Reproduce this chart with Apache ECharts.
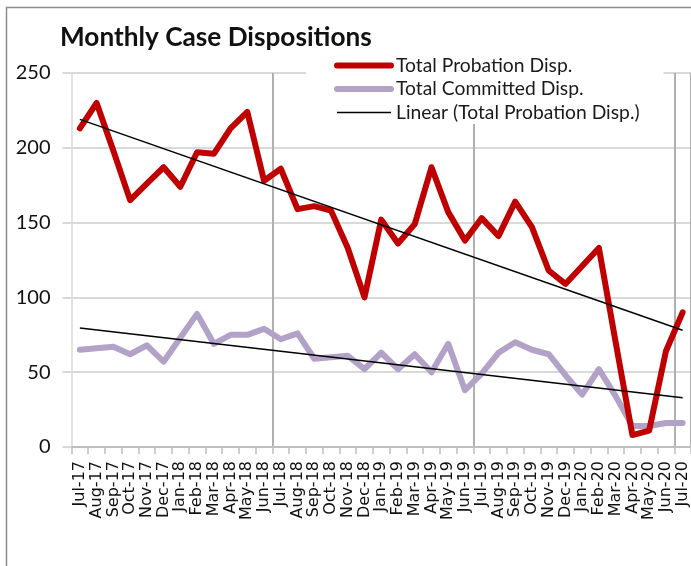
<!DOCTYPE html>
<html>
<head>
<meta charset="utf-8">
<script src="https://cdn.jsdelivr.net/npm/echarts@6/dist/echarts.min.js"></script>
<style>
  html, body { margin: 0; padding: 0; background: #fff; }
  #chart { width: 691px; height: 566px; }
</style>
</head>
<body>
<div id="chart"></div>
<script>
const categories = ["Jul-17","Aug-17","Sep-17","Oct-17","Nov-17","Dec-17","Jan-18","Feb-18","Mar-18","Apr-18","May-18","Jun-18",
  "Jul-18","Aug-18","Sep-18","Oct-18","Nov-18","Dec-18","Jan-19","Feb-19","Mar-19","Apr-19","May-19","Jun-19",
  "Jul-19","Aug-19","Sep-19","Oct-19","Nov-19","Dec-19","Jan-20","Feb-20","Mar-20","Apr-20","May-20","Jun-20","Jul-20"];
const probation = [213,230,198,165,176,187,174,197,196,213,224,178,
  186,159,161,158,133,100,152,136,149,187,157,138,
  153,141,164,147,118,109,121,133,70,8,11,64,90];
const committed = [65,66,67,62,68,57,73,89,69,75,75,79,
  72,76,59,60,61,52,63,52,62,50,69,38,
  49,63,70,65,62,48,35,52,34,14,14,16,16];
const trendProbationEnds = [219, 78];
const trendCommittedEnds = [79.5, 33];
const yTicks = { min: 0, max: 250, step: 50 };
const titleText = "Monthly Case Dispositions";
const legendNames = ["Total Probation Disp.", "Total Committed Disp.", "Linear (Total Probation Disp.)"];

function fitFont(text, family, weight, target) {
  const c = document.createElement('canvas').getContext('2d');
  c.font = weight + ' 100px ' + family;
  const w = c.measureText(text).width;
  return Math.round(100 * target / w * 10) / 10;
}
function trendSeries(ends) {
  return categories.map((_, i) => i === 0 ? ends[0] : (i === categories.length - 1 ? ends[1] : null));
}

const titleSize = fitFont(titleText, 'Lato', 'bold', 312);
const legendSize = fitFont(legendNames[2], 'Lato', 'normal', 244);

const chart = echarts.init(document.getElementById('chart'), null, { renderer: 'canvas' });
const option = {
  backgroundColor: '#fff',
  animation: false,
  graphic: [{
    type: 'rect', left: 4, top: 5, z: 100, silent: true,
    shape: { width: 720, height: 600 },
    style: { fill: 'none', stroke: '#8c8c8c', lineWidth: 1.5 }
  }],
  title: {
    text: titleText, left: 60, top: 39 - titleSize / 2 - 1,
    padding: 0,
    textStyle: { fontFamily: 'Lato', fontWeight: 'bold', fontSize: titleSize, color: '#111' }
  },
  legend: {
    orient: 'vertical', left: 306, top: 45,
    padding: [11, 24, 2, 28],
    backgroundColor: '#fff',
    itemWidth: 54, itemHeight: 14, itemGap: 4.5,
    textStyle: { fontFamily: 'Lato', fontSize: legendSize, color: '#1a1a1a' },
    data: [
      { name: legendNames[0], itemStyle: { opacity: 0 }, lineStyle: { width: 6, color: '#c00000', cap: 'round' } },
      { name: legendNames[1], itemStyle: { opacity: 0 }, lineStyle: { width: 6, color: '#b3a2c7', cap: 'round' } },
      { name: legendNames[2], itemStyle: { opacity: 0 }, lineStyle: { width: 1.5, color: '#000' } }
    ]
  },
  grid: { left: 71.5, top: 73, width: 37 * 16.83, height: 374, containLabel: false },
  xAxis: {
    type: 'category', data: categories, boundaryGap: true,
    axisLine: { show: true, lineStyle: { color: '#bfbfbf', width: 2 } },
    axisTick: { show: true, interval: 0, length: 7, lineStyle: { color: '#bfbfbf', width: 1.5 } },
    axisLabel: { interval: 0, rotate: 90, margin: 14, fontFamily: 'DejaVu Sans', fontSize: 16, color: '#111' },
    splitLine: { show: true, interval: (i) => i > 0 && i % 12 === 0, lineStyle: { color: '#b0b0b0', width: 2 } }
  },
  yAxis: {
    type: 'value', min: yTicks.min, max: yTicks.max, interval: yTicks.step,
    axisLine: { show: true, lineStyle: { color: '#d9d9d9', width: 1.5 } },
    axisTick: { show: true, length: 9, lineStyle: { color: '#d9d9d9', width: 2 } },
    axisLabel: { margin: 21, fontFamily: 'Lato', fontSize: 20, color: '#111' },
    splitLine: { show: true, lineStyle: { color: '#d9d9d9', width: 2 } }
  },
  series: [
    { name: legendNames[0], type: 'line', data: probation, symbol: 'none', z: 3,
      lineStyle: { color: '#c00000', width: 6, join: 'round', cap: 'round' }, itemStyle: { color: '#c00000' } },
    { name: legendNames[1], type: 'line', data: committed, symbol: 'none', z: 2,
      lineStyle: { color: '#b3a2c7', width: 6, join: 'round', cap: 'round' }, itemStyle: { color: '#b3a2c7' } },
    { name: legendNames[2], type: 'line', data: trendSeries(trendProbationEnds), connectNulls: true, symbol: 'none', z: 4,
      lineStyle: { color: '#000', width: 1.5 }, itemStyle: { color: '#000' } },
    { name: 'Linear (Total Committed Disp.)', type: 'line', data: trendSeries(trendCommittedEnds), connectNulls: true, symbol: 'none', z: 4,
      lineStyle: { color: '#000', width: 1.5 }, itemStyle: { color: '#000' } }
  ]
};
chart.setOption(option);
</script>
</body>
</html>
